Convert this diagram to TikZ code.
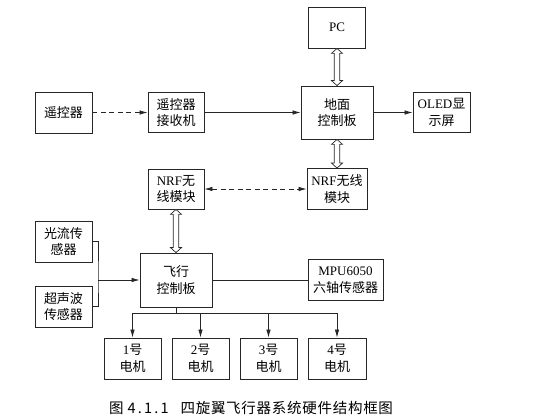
\documentclass[tikz,border=0pt]{standalone}
\usepackage{fontspec}
\setmainfont{Liberation Serif}
\newfontfamily\cjk{Noto Sans CJK SC}
\newfontfamily\cjkcap[LetterSpace=5]{Noto Sans CJK SC}
\newcommand\zh[1]{{\cjk #1}}
\usetikzlibrary{arrows.meta,calc}
\newcommand\hollowarrow[2]{%
  \draw[hollow] let \p1=(#1),\p2=(#2) in
   (\x1,\y1) -- (\x1+5.5pt,\y1-5pt) -- (\x1+2.75pt,\y1-5pt) -- (\x1+2.75pt,\y2+5pt)
   -- (\x1+5.5pt,\y2+5pt) -- (\x1,\y2) -- (\x1-5.5pt,\y2+5pt) -- (\x1-2.75pt,\y2+5pt)
   -- (\x1-2.75pt,\y1-5pt) -- (\x1-5.5pt,\y1-5pt) -- cycle;}
\begin{document}
\begin{tikzpicture}[x=1pt,y=-1pt,
  box/.style={draw=black!85,line width=0.8pt,inner sep=0pt,align=center,
    font=\fontsize{13}{16.5}\selectfont},
  line/.style={draw=black!85,line width=0.7pt},
  tip/.tip={Latex[length=8pt,width=4.5pt]},
  arr/.style={line,-tip},
  dash arr/.style={line,dash pattern=on 5pt off 3.5pt},
  hollow/.style={draw=black!85,line width=0.7pt,fill=white}]
\useasboundingbox (0,0) rectangle (555,419);
\node[box,minimum width=57pt,minimum height=41pt] (rc) at (63.5,112.5) {\zh{遥控器}};
\node[box,minimum width=56pt,minimum height=40pt] (rx) at (176,112.5) {\zh{遥控器}\\\zh{接收机}};
\node[box,minimum width=72pt,minimum height=53pt] (gc) at (337,112.5) {\zh{地面}\\\zh{控制板}};
\node[box,minimum width=57pt,minimum height=41pt] (pc) at (337,27.5) {PC};
\node[box,minimum width=57pt,minimum height=40pt] (oled) at (441.5,112.5) {OLED\zh{显}\\\zh{示屏}};
\node[box,minimum width=60pt,minimum height=41pt] (nrfR) at (337,189) {NRF\zh{无线}\\\zh{模块}};
\node[box,minimum width=56pt,minimum height=40pt] (nrfL) at (176,189) {NRF\zh{无}\\\zh{线模块}};
\node[box,minimum width=72pt,minimum height=54pt] (fc) at (176,280) {\zh{飞行}\\\zh{控制板}};
\node[box,minimum width=57pt,minimum height=41pt] (of) at (63.5,241.5) {\zh{光流传}\\\zh{感器}};
\node[box,minimum width=57pt,minimum height=41pt] (us) at (63.5,306.5) {\zh{超声波}\\\zh{传感器}};
\node[box,minimum width=75pt,minimum height=41pt] (mpu) at (345.5,280) {MPU6050\\\zh{六轴传感器}};
\node[box,minimum width=57pt,minimum height=41pt] (m1) at (132.5,358.5) {1\zh{号}\\\zh{电机}};
\node[box,minimum width=57pt,minimum height=41pt] (m2) at (200.5,358.5) {2\zh{号}\\\zh{电机}};
\node[box,minimum width=57pt,minimum height=41pt] (m3) at (268.5,358.5) {3\zh{号}\\\zh{电机}};
\node[box,minimum width=58pt,minimum height=41pt] (m4) at (337,358.5) {4\zh{号}\\\zh{电机}};
\node[anchor=west,inner sep=0pt,font=\fontsize{14.5}{16}\selectfont] (cap) at (109,408)
  {\cjkcap 图~{\addfontfeature{LetterSpace=15}4.1.1}\hspace{12pt}四旋翼飞行器系统硬件结构框图};
% connectors
\draw[dash arr,-tip] (rc.east) -- (rx.west);
\draw[arr] (rx.east) -- (gc.west);
\draw[arr] (gc.east) -- (oled.west);
\draw[dash arr,tip-tip] (nrfL.east) -- (nrfR.west);
\hollowarrow{pc.south}{gc.north}
\hollowarrow{gc.south}{nrfR.north}
\hollowarrow{nrfL.south}{fc.north}
\coordinate (bj) at (98,280);
\draw[line] (of.east) -| (bj) |- (us.east);
\draw[arr] (bj) -- (fc.west);
\draw[line] (fc.east) -- (mpu.west);
\coordinate (bus) at (176,313);
\draw[line] (fc.south) -- (bus);
\draw[arr] (bus) -| (m1.north);
\draw[arr] (bus) -| (m2.north);
\draw[arr] (bus) -| (m3.north);
\draw[arr] (bus) -| (m4.north);
\end{tikzpicture}
\end{document}
